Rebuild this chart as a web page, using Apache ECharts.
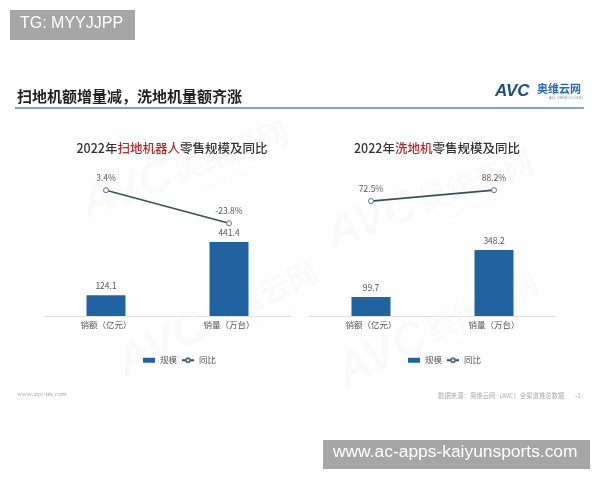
<!DOCTYPE html>
<html>
<head>
<meta charset="utf-8">
<script src="https://cdn.jsdelivr.net/npm/echarts@6/dist/echarts.min.js"></script>
<style>
  html, body { margin: 0; padding: 0; background: #ffffff; }
  #chart { width: 600px; height: 480px; }
</style>
</head>
<body>
<div id="chart"></div>
<script>
// Category labels shared by both panels
const categories = ['销额（亿元）', '销量（万台）'];

// Robot vacuum (扫地机器人) 2022 retail scale and YoY change
const robotScale = [124.1, 441.4];
const robotYoY = [3.4, -23.8];

// Floor washer (洗地机) 2022 retail scale and YoY change
const washerScale = [99.7, 348.2];
const washerYoY = [72.5, 88.2];

const FONT = '"Noto Sans CJK SC", "Noto Sans", sans-serif';
const BAR = '#1f64a0';
const LINE = '#36505f';
const TXT = '#555';

const chart = echarts.init(document.getElementById('chart'), null, { renderer: 'canvas' });

function fmt1(v) { return v.toFixed(1); }

// faint brand watermark
function watermark(x, y, rot, op) {
  const c = 'rgba(120,120,120,' + op + ')';
  return {
    type: 'group', x: x, y: y, rotation: rot, silent: true, z: 0,
    children: [
      { type: 'text', style: { text: 'AVC', x: 0, y: 0, fill: c,
          font: 'italic bold 46px "Liberation Sans", sans-serif' } },
      { type: 'text', style: { text: '奥维云网', x: 98, y: 6, fill: c,
          font: 'bold 30px ' + FONT } },
      { type: 'text', style: { text: 'ALL VIEW CLOUD', x: 118, y: 42, fill: c,
          font: '8px "Liberation Sans", sans-serif' } }
    ]
  };
}

const titleStyle = {
  fontSize: 12.5, fontWeight: 500, color: '#333', fontFamily: FONT,
  rich: { r: { color: '#b8282c', fontSize: 12.5, fontWeight: 500, fontFamily: FONT } }
};

const option = {
  backgroundColor: '#ffffff',
  animation: false,
  textStyle: { fontFamily: FONT },
  title: [
    { text: '2022年{r|扫地机器人}零售规模及同比', left: 167, top: 137, textAlign: 'center', textStyle: titleStyle },
    { text: '2022年{r|洗地机}零售规模及同比', left: 432, top: 137, textAlign: 'center', textStyle: titleStyle }
  ],
  legend: [
    {
      left: 138, top: 351, itemWidth: 12, itemHeight: 5, itemGap: 4,
      textStyle: { fontSize: 8.5, color: TXT, fontFamily: FONT },
      data: [{ name: '规模', icon: 'rect' }, { name: '同比' }]
    },
    {
      left: 403, top: 351, itemWidth: 12, itemHeight: 5, itemGap: 4,
      textStyle: { fontSize: 8.5, color: TXT, fontFamily: FONT },
      data: [{ name: '规模', icon: 'rect' }, { name: '同比' }]
    }
  ],
  grid: [
    { left: 44.5, width: 246, top: 170, height: 146 },
    { left: 309.5, width: 246, top: 170, height: 146 }
  ],
  xAxis: [0, 1].map(i => ({
    type: 'category', gridIndex: i, data: categories,
    axisLine: { lineStyle: { color: '#e2e2e2', width: 1 } },
    axisTick: { show: false },
    axisLabel: { color: TXT, fontSize: 8.5, margin: 5, fontFamily: FONT }
  })),
  yAxis: [
    { type: 'value', gridIndex: 0, min: 0, max: 871, show: false, splitLine: { show: false } },
    { type: 'value', gridIndex: 0, min: -100, max: 20, show: false, splitLine: { show: false } },
    { type: 'value', gridIndex: 1, min: 0, max: 770, show: false, splitLine: { show: false } },
    { type: 'value', gridIndex: 1, min: -92, max: 117, show: false, splitLine: { show: false } }
  ],
  series: [
    {
      name: '规模', type: 'bar', xAxisIndex: 0, yAxisIndex: 0, data: robotScale,
      barWidth: 39, itemStyle: { color: BAR },
      label: { show: true, position: 'top', distance: 5, color: TXT, fontSize: 8.5,
        fontFamily: FONT, formatter: p => fmt1(p.value) }
    },
    {
      name: '同比', type: 'line', xAxisIndex: 0, yAxisIndex: 1, data: robotYoY,
      symbol: 'circle', symbolSize: 5,
      lineStyle: { color: LINE, width: 1.6 },
      itemStyle: { color: '#ffffff', borderColor: '#5b7488', borderWidth: 1 },
      label: { show: true, position: 'top', distance: 5, color: TXT, fontSize: 8.5,
        fontFamily: FONT, formatter: p => fmt1(p.value) + '%' }
    },
    {
      name: '规模', type: 'bar', xAxisIndex: 1, yAxisIndex: 2, data: washerScale,
      barWidth: 39, itemStyle: { color: BAR },
      label: { show: true, position: 'top', distance: 5, color: TXT, fontSize: 8.5,
        fontFamily: FONT, formatter: p => fmt1(p.value) }
    },
    {
      name: '同比', type: 'line', xAxisIndex: 1, yAxisIndex: 3, data: washerYoY,
      symbol: 'circle', symbolSize: 5,
      lineStyle: { color: LINE, width: 1.6 },
      itemStyle: { color: '#ffffff', borderColor: '#5b7488', borderWidth: 1 },
      label: { show: true, position: 'top', distance: 5, color: TXT, fontSize: 8.5,
        fontFamily: FONT, formatter: p => fmt1(p.value) + '%' }
    }
  ],
  graphic: [
    // watermarks
    watermark(75, 185, 0.35, 0.035),
    watermark(110, 345, 0.45, 0.035),
    watermark(320, 215, 0.35, 0.035),
    watermark(330, 355, 0.45, 0.035),
    // page heading
    { type: 'text', left: 17, top: 89, z: 10,
      style: { text: '扫地机额增量减，洗地机量额齐涨', fill: '#1f1f1f',
        font: 'bold 15px ' + FONT } },
    { type: 'line', z: 10,
      shape: { x1: 15, y1: 108, x2: 584, y2: 108 },
      style: { stroke: '#5a88a3', lineWidth: 1.6 } },
    // brand mark
    { type: 'text', left: 495, top: 83, z: 10,
      style: { text: 'AVC', fill: '#1d4f86', font: 'italic bold 17px "Liberation Sans", sans-serif' } },
    { type: 'text', left: 537, top: 83, z: 10,
      style: { text: '奥维云网', fill: '#2a6bb0', font: 'bold 11px ' + FONT } },
    { type: 'text', left: 549, top: 96, z: 10,
      style: { text: 'ALL VIEW CLOUD', fill: '#7a8a9a', font: '4px "Liberation Sans", sans-serif' } },
    // footer
    { type: 'text', left: 17, top: 391, z: 10,
      style: { text: 'www.avc-mr.com', fill: '#aaaaaa', font: '7px "Liberation Serif", serif' } },
    { type: 'text', left: 438, top: 392, z: 10,
      style: { text: '数据来源：奥维云网（AVC）全渠道推总数据', fill: '#aaaaaa', font: '6.4px ' + FONT } },
    { type: 'text', left: 575, top: 392, z: 10,
      style: { text: '-1-', fill: '#aaaaaa', font: '6.4px ' + FONT } },
    // tag boxes
    { type: 'rect', z: 20, shape: { x: 10, y: 10, width: 125, height: 30 },
      style: { fill: '#a6a6a6' } },
    { type: 'text', z: 21, left: 20, top: 16,
      style: { text: 'TG: MYYJJPP', fill: '#ffffff', font: '16px "Liberation Sans", sans-serif' } },
    { type: 'rect', z: 20, shape: { x: 323, y: 440, width: 267, height: 29 },
      style: { fill: '#a6a6a6' } },
    { type: 'text', z: 21, left: 333, top: 444,
      style: { text: 'www.ac-apps-kaiyunsports.com', fill: '#ffffff', font: '17.4px "Liberation Sans", sans-serif' } }
  ]
};

chart.setOption(option);
</script>
</body>
</html>
